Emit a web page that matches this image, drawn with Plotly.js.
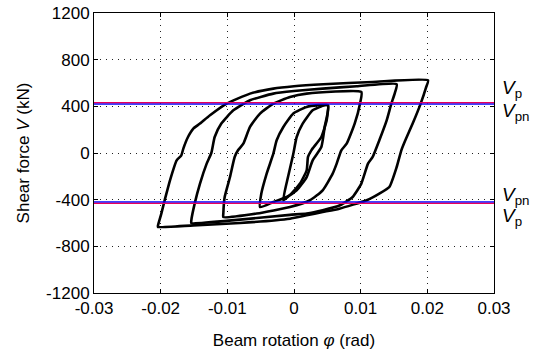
<!DOCTYPE html>
<html>
<head>
<meta charset="utf-8">
<script src="https://cdn.plot.ly/plotly-3.0.1.min.js"></script>
<style>html,body{margin:0;padding:0;background:#fff;}#chart{width:534px;height:356px;}</style>
</head>
<body>
<div id="chart"></div>
<script>
// Hysteresis loops: beam rotation (rad) and shear force (kN)
var phiA = [-0.0204,-0.0204,-0.0199,-0.0194,-0.0186,-0.0176,-0.0169,-0.0166,-0.0159,-0.0151,-0.0141,-0.0126,-0.0101,-0.0066,-0.0031,0,0.0044,0.0118,0.0201,0.0198,0.0190,0.0178,0.0167,0.0161,0.0154,0.0143,0.0128,0.0109,0.0068,0.0043,0.0019,-0.0006,-0.0081,-0.0151,-0.0204];
var VA   = [-634,-620,-519,-405,-234,-63,-20,38,137,209,252,323,423,509,552,572,589,609,623,560,423,252,109,23,-120,-291,-348,-405,-477,-506,-534,-563,-600,-620,-634];

var phiB = [-0.0154,-0.0154,-0.0149,-0.0141,-0.0131,-0.0124,-0.0119,-0.0109,-0.0091,-0.0066,-0.0031,0,0.0043,0.0094,0.0154,0.0151,0.0146,0.0139,0.0128,0.0118,0.0111,0.0101,0.0088,0.0069,0.0043,0.0019,-0.0006,-0.0081,-0.0154];
var VB   = [-600,-577,-434,-262,-91,0,137,252,366,452,509,531,552,572,589,509,423,280,109,-34,-91,-262,-377,-448,-491,-519,-530,-571,-600];

var phiC = [-0.0106,-0.0106,-0.0104,-0.0096,-0.0089,-0.0084,-0.0076,-0.0066,-0.0051,-0.0031,-0.0006,0.0019,0.0101,0.0099,0.0091,0.0079,0.0071,0.0064,0.0058,0.0043,0.0024,-0.0006,-0.0056,-0.0106];
var VC   = [-549,-519,-377,-206,-34,23,80,223,338,423,480,509,523,423,252,80,23,-91,-177,-320,-405,-463,-519,-549];

var phiD = [-0.0051,-0.0049,-0.0041,-0.0031,-0.0026,-0.0016,-0.0001,0.0019,0.0051,0.0046,0.0041,0.0028,0.0019,0.0004,-0.0011,-0.0031,-0.0051];
var VD   = [-463,-348,-177,-6,109,223,338,395,409,223,51,-63,-206,-320,-377,-420,-463];

var phiE = [-0.0016,-0.0009,-0.0001,0.0004,0.0013,0.0028,0.0046,0.0051,0.0049,0.0041,0.0026,0.0021,0.0019,0.0009,-0.0004,-0.0016];
var VE   = [-405,-206,-6,137,252,366,409,409,280,137,23,-34,-148,-262,-348,-405];

// Reference strengths (kN)
var Vp = 432;
var Vpn = 420;
var xRange = [-0.03, 0.03];

var xTicks = [-0.03,-0.02,-0.01,0,0.01,0.02,0.03];
var xTickText = ['-0.03','-0.02','-0.01','0','0.01','0.02','0.03'];
var yTicks = [-1200,-800,-400,0,400,800,1200];
var yTickText = ['-1200','-800','-400','0','400','800','1200'];

var loops = [[phiA,VA],[phiB,VB],[phiC,VC],[phiD,VD],[phiE,VE]];
var traces = loops.map(function(l){
  return {x:l[0], y:l[1], mode:'lines', type:'scatter',
    line:{color:'#000', width:2.6, shape:'spline', smoothing:0.5}, hoverinfo:'skip'};
});
traces.push({x:xRange, y:[Vpn,Vpn], mode:'lines', line:{color:'#0000ff', width:1.6}});
traces.push({x:xRange, y:[-Vpn,-Vpn], mode:'lines', line:{color:'#0000ff', width:1.6}});
traces.push({x:xRange, y:[Vp,Vp], mode:'lines', line:{color:'#e8005a', width:1.4}});
traces.push({x:xRange, y:[-Vp,-Vp], mode:'lines', line:{color:'#e8005a', width:1.4}});

var fnt = {family:'Liberation Sans, Arial, sans-serif', size:17, color:'#000'};
var axisCommon = {
  showline:true, linecolor:'#000', linewidth:1, mirror:'ticks',
  ticks:'inside', ticklen:4, tickcolor:'#000', tickwidth:1,
  showgrid:true, gridcolor:'#222', gridwidth:1, griddash:'1px,5px',
  zeroline:false, tickfont:fnt
};
var xaxis = Object.assign({}, axisCommon, {
  range:xRange, tickvals:xTicks, ticktext:xTickText,
  title:{text:'Beam rotation <i>φ</i> (rad)', font:fnt, standoff:16}
});
var yaxis = Object.assign({}, axisCommon, {
  range:[-1200,1200], tickvals:yTicks, ticktext:yTickText,
  title:{text:'Shear force <i>V</i> (kN)', font:fnt, standoff:12}
});

var lab = {family:'Liberation Sans, Arial, sans-serif', size:19, color:'#000'};
var annotations = [
  {text:'<i>V</i><sub>p</sub>', y:Vp, yshift:14},
  {text:'<i>V</i><sub>pn</sub>', y:Vpn, yshift:-8},
  {text:'<i>V</i><sub>pn</sub>', y:-Vpn, yshift:6},
  {text:'<i>V</i><sub>p</sub>', y:-Vp, yshift:-14}
].map(function(a){
  return {text:a.text, xref:'paper', yref:'y', x:1.015, y:a.y, yshift:a.yshift,
    xanchor:'left', yanchor:'middle', showarrow:false, font:lab};
});

var layout = {
  width:534, height:356,
  margin:{l:94, r:40, t:13, b:63},
  paper_bgcolor:'#fff', plot_bgcolor:'#fff',
  showlegend:false,
  xaxis:xaxis, yaxis:yaxis,
  annotations:annotations
};
Plotly.newPlot('chart', traces, layout, {staticPlot:true, displayModeBar:false});
</script>
</body>
</html>
